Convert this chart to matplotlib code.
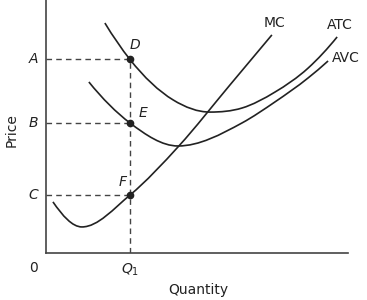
import matplotlib.pyplot as plt
import numpy as np
from matplotlib.path import Path
from matplotlib.patches import PathPatch

# points (quantity, price), axes run 0..100
atc_q = [19.5, 27.8, 42.1, 54.3, 64.9, 75.8, 86.8, 96.4]
atc_p = [90.9, 76.5, 60.5, 55.7, 57.3, 63.6, 73.1, 85.4]

avc_q = [14.2, 27.8, 43.7, 64.9, 75.8, 86.8, 93.4]
avc_p = [67.6, 51.4, 42.3, 51.4, 59.7, 69.2, 75.9]

mc_q = [2.3, 11.9, 27.8, 44.0, 60.9, 74.8]
mc_p = [20.2, 10.3, 22.9, 42.3, 66.4, 86.2]

q1 = 27.8
price_levels = {'A': 76.5, 'B': 51.4, 'C': 22.8}
point_names = ['D', 'E', 'F']

ink = '#222222'


def smooth_path(xs, ys):
    # hermite curve through the read points, flat at turning points, as bezier segments
    x = np.asarray(xs, float)
    y = np.asarray(ys, float)
    h = np.diff(x)
    d = np.diff(y) / h
    m = np.empty_like(x)
    m[0] = ((2 * h[0] + h[1]) * d[0] - h[0] * d[1]) / (h[0] + h[1])
    m[-1] = ((2 * h[-1] + h[-2]) * d[-1] - h[-1] * d[-2]) / (h[-1] + h[-2])
    for i in range(1, len(x) - 1):
        if d[i - 1] * d[i] <= 0:
            m[i] = 0.0
        else:
            m[i] = (h[i] * d[i - 1] + h[i - 1] * d[i]) / (h[i - 1] + h[i])
    verts = [(x[0], y[0])]
    codes = [Path.MOVETO]
    for i in range(len(x) - 1):
        verts += [(x[i] + h[i] / 3, y[i] + m[i] * h[i] / 3),
                  (x[i + 1] - h[i] / 3, y[i + 1] - m[i + 1] * h[i] / 3),
                  (x[i + 1], y[i + 1])]
        codes += [Path.CURVE4] * 3
    return Path(verts, codes)


fig = plt.figure(figsize=(3.67, 3.0), dpi=100)
ax = fig.add_axes([46 / 367, 47 / 300, 302 / 367, 253 / 300])
ax.set_xlim(0, 100)
ax.set_ylim(0, 100)

for xs, ys in [(atc_q, atc_p), (avc_q, avc_p), (mc_q, mc_p)]:
    ax.add_patch(PathPatch(smooth_path(xs, ys), fill=False, ec=ink, lw=1.2))

# dashed guides
dash = dict(color='#444444', lw=1.0, ls=(0, (4, 3)))
for name, lvl in price_levels.items():
    ax.plot([0, q1], [lvl, lvl], **dash)
    ax.text(-4.3, lvl, name, ha='center', va='center', fontsize=10,
            style='italic', color=ink, clip_on=False)
ax.plot([q1, q1], [0, price_levels['A']], **dash)

ax.plot([q1] * 3, list(price_levels.values()), 'o', color=ink, ms=4.5)

ax.text(29.5, 82.2, point_names[0], fontsize=10, style='italic', color=ink, ha='center', va='center')
ax.text(32.1, 55.3, point_names[1], fontsize=10, style='italic', color=ink, ha='center', va='center')
ax.text(25.5, 28.1, point_names[2], fontsize=10, style='italic', color=ink, ha='center', va='center')

ax.text(75.8, 90.9, 'MC', fontsize=10, color=ink, ha='center', va='center')
ax.text(97.4, 90.1, 'ATC', fontsize=10, color=ink, ha='center', va='center', clip_on=False)
ax.text(99.3, 77.1, 'AVC', fontsize=10, color=ink, ha='center', va='center', clip_on=False)

ax.text(-4.3, -5.9, '0', fontsize=10, color=ink, ha='center', va='center', clip_on=False)
ax.text(q1, -6.7, r'$Q_1$', fontsize=10, color=ink, ha='center', va='center', clip_on=False)
ax.text(50.3, -14.6, 'Quantity', fontsize=10, color=ink, ha='center', va='center', clip_on=False)
ax.text(-11.3, 48.6, 'Price', fontsize=10, color=ink, ha='center', va='center',
        rotation=90, clip_on=False)

for side in ['top', 'right']:
    ax.spines[side].set_visible(False)
for side in ['left', 'bottom']:
    ax.spines[side].set_color('#444444')
    ax.spines[side].set_linewidth(1.2)
ax.set_xticks([])
ax.set_yticks([])

fig.savefig('out.png', dpi=100)
